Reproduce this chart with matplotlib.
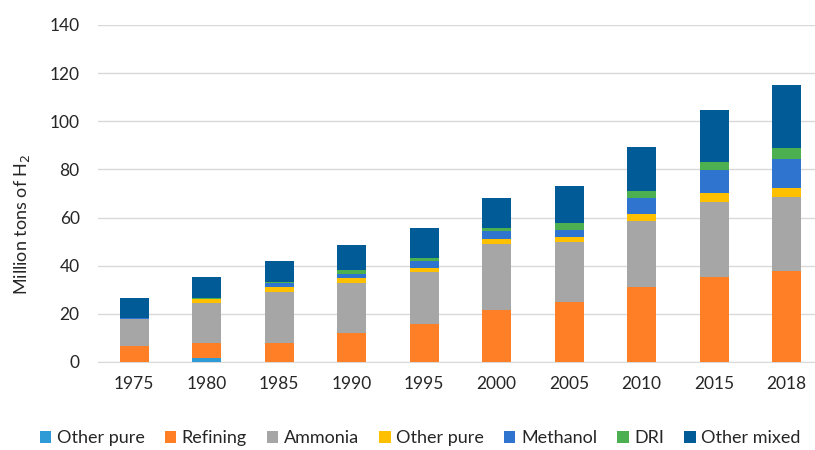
import matplotlib
matplotlib.use("Agg")
import matplotlib.pyplot as plt
import numpy as np

# # # # # # # # # #   DATA (million tons of H2)   # # # # # # # # # #
years = ['1975', '1980', '1985', '1990', '1995', '2000', '2005', '2010', '2015', '2018']
other_pure_a = [0.0, 1.5, 0.0, 0.0, 0.0, 0.0, 0.0, 0.0, 0.0, 0.0]
refining = [6.6, 6.5, 8.0, 11.9, 15.6, 21.7, 25.1, 31.2, 35.4, 37.7]
ammonia = [11.1, 16.4, 21.2, 21.0, 21.8, 27.5, 24.8, 27.4, 31.2, 30.7]
other_pure_b = [0.2, 1.6, 1.8, 1.9, 1.6, 1.8, 1.9, 2.9, 3.6, 4.0]
methanol = [0.3, 0.3, 1.9, 1.8, 2.8, 3.4, 2.9, 6.6, 9.6, 12.1]
dri = [0.2, 0.2, 0.3, 1.5, 1.3, 1.3, 2.9, 2.9, 3.1, 4.5]
other_mixed = [8.3, 8.9, 8.9, 10.4, 12.4, 12.3, 15.7, 18.5, 21.7, 25.9]

series = [
    ('Other pure', other_pure_a, '#2E9BD6'),
    ('Refining', refining, '#FF7F27'),
    ('Ammonia', ammonia, '#A6A6A6'),
    ('Other pure', other_pure_b, '#FFC000'),
    ('Methanol', methanol, '#2F74CF'),
    ('DRI', dri, '#4CAF50'),
    ('Other mixed', other_mixed, '#005B96'),
]

plt.rcParams['font.family'] = ['Lato', 'DejaVu Sans']
txt = '#262626'

# # # # # # # # # #   GRAPH   # # # # # # # # # #
fig = plt.figure(figsize=(8.15, 4.5), dpi=100)
ax = fig.add_axes([97.75 / 815, 1 - 362 / 450, 725 / 815, 337 / 450])

x = np.arange(len(years))
bottom = np.zeros(len(years))
for name, vals, col in series:
    ax.bar(x, vals, 0.4, bottom=bottom, color=col, label=name, zorder=3)
    bottom += np.array(vals)

ax.set_xlim(-0.5, 9.5)
ax.set_ylim(0, 140)
ax.set_yticks(range(0, 141, 20))
ax.set_xticks(x)
ax.set_xticklabels(years)
ax.grid(axis='y', color='#D9D9D9', linewidth=1, zorder=0)
for s in ['top', 'right', 'left']:
    ax.spines[s].set_visible(False)
ax.spines['bottom'].set_color('#D9D9D9')
ax.tick_params(axis='both', length=0, labelsize=12.5, colors=txt)
ax.tick_params(axis='y', pad=13)
ax.tick_params(axis='x', pad=10)

fig.text(22 / 815, 1 - 224 / 450, 'Million tons of H$_2$', rotation=90,
         ha='center', va='center', fontsize=13, color=txt)

fig.legend(loc='center', bbox_to_anchor=(420 / 815, 1 - 438 / 450), ncol=7,
           frameon=False, fontsize=13, handlelength=0.65, handleheight=0.65,
           handletextpad=0.3, columnspacing=1.1, labelcolor=txt)

fig.savefig('out.png', dpi=100)
